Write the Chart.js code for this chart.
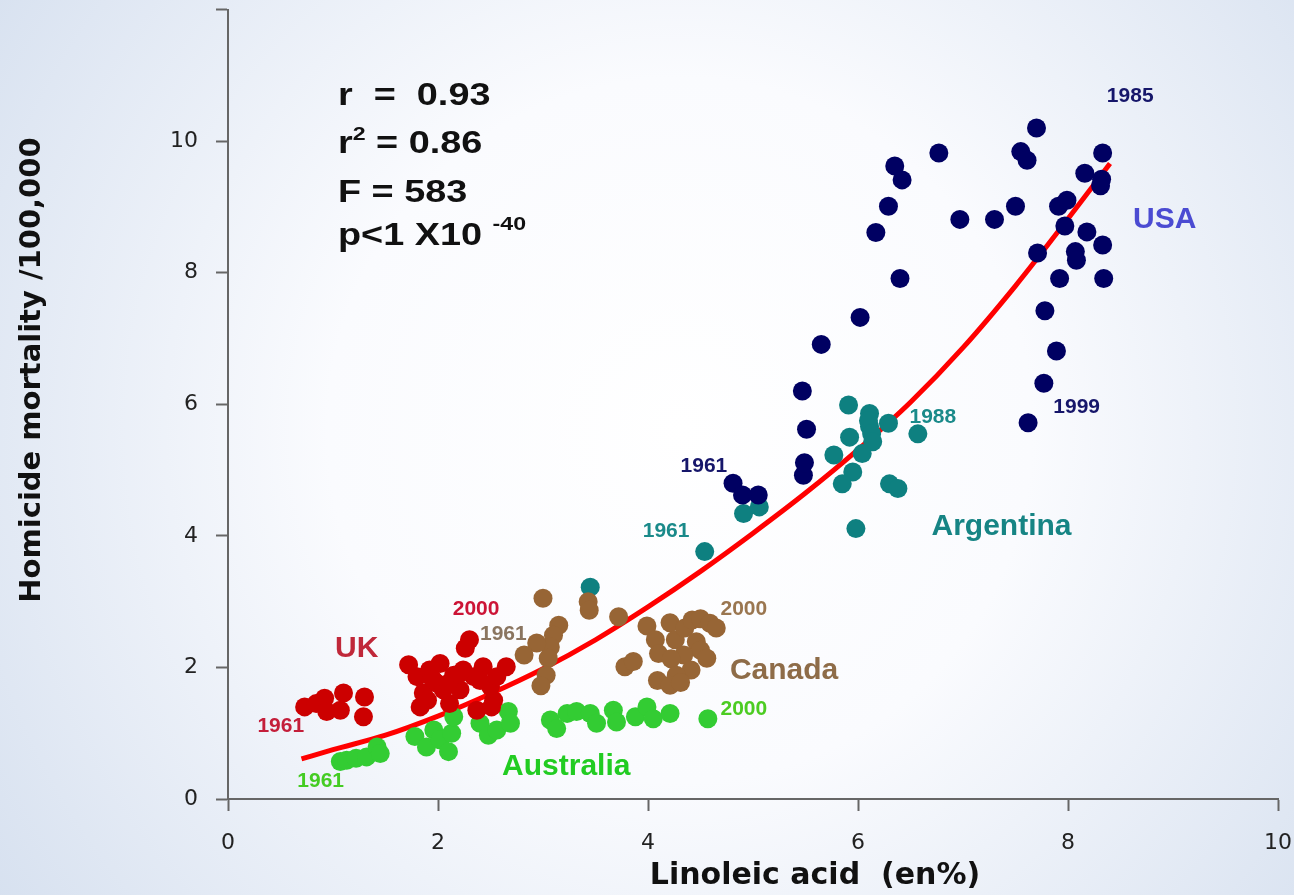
<!DOCTYPE html>
<html>
<head>
<meta charset="utf-8">
<script src="https://cdn.jsdelivr.net/npm/chart.js@4.4.1/dist/chart.umd.min.js"></script>
<style>
  body { margin: 0; background: #fff; }
  #wrap { width: 1294px; height: 895px; }
</style>
</head>
<body>
<div id="wrap"><canvas id="homicideChart" width="1294" height="895"></canvas></div>
<script>
// points: [linoleic acid en%, homicide /100,000]
const usa = [
  [4.81, 4.80], [4.90, 4.62], [5.05, 4.62], [5.48, 4.92], [5.49, 5.11], [5.51, 5.62],
  [5.47, 6.20], [5.65, 6.91], [6.02, 7.32], [6.40, 7.91], [6.17, 8.61], [6.29, 9.01],
  [6.35, 9.62], [6.42, 9.41], [6.77, 9.82], [6.97, 8.81], [7.30, 8.81], [7.50, 9.01],
  [7.55, 9.84], [7.61, 9.71], [7.70, 10.20], [7.71, 8.30], [7.91, 9.01], [7.99, 9.10],
  [7.97, 8.71], [8.07, 8.32], [8.08, 8.19], [8.18, 8.62], [8.16, 9.51], [8.33, 9.82],
  [8.32, 9.42], [8.31, 9.32], [8.33, 8.42], [7.92, 7.91], [8.34, 7.91], [7.78, 7.42],
  [7.89, 6.81], [7.77, 6.32], [7.62, 5.72]
];
const argentina = [
  [3.45, 3.22], [4.54, 3.76], [4.91, 4.34], [5.06, 4.44], [5.91, 5.99], [6.11, 5.86],
  [5.92, 5.50], [6.11, 5.66], [6.10, 5.75], [6.13, 5.55], [6.29, 5.71], [6.57, 5.55],
  [6.14, 5.43], [5.77, 5.23], [6.04, 5.25], [5.95, 4.97], [5.85, 4.79], [6.30, 4.79],
  [6.38, 4.72], [5.98, 4.11]
];
const canada = [
  [3.00, 3.05], [3.43, 3.00], [3.44, 2.87], [3.72, 2.77], [3.15, 2.64], [3.10, 2.49],
  [3.07, 2.31], [2.94, 2.37], [2.82, 2.19], [3.05, 2.14], [3.03, 1.88], [2.98, 1.72],
  [3.78, 2.01], [3.86, 2.09], [3.99, 2.63], [4.07, 2.42], [4.10, 2.21], [4.21, 2.68],
  [4.26, 2.42], [4.35, 2.60], [4.42, 2.72], [4.50, 2.74], [4.59, 2.67], [4.65, 2.60],
  [4.46, 2.39], [4.50, 2.26], [4.56, 2.14], [4.34, 2.19], [4.22, 2.13], [4.41, 1.96],
  [4.27, 1.88], [4.09, 1.80], [4.21, 1.73], [4.31, 1.77]
];
const uk = [
  [0.73, 1.40], [0.84, 1.45], [0.92, 1.53], [0.94, 1.33], [1.10, 1.61], [1.07, 1.35],
  [1.30, 1.55], [1.29, 1.25], [1.72, 2.04], [1.80, 1.86], [1.83, 1.40], [1.86, 1.61],
  [1.92, 1.96], [2.02, 2.06], [1.99, 1.76], [2.11, 1.45], [2.15, 1.88], [2.24, 1.96],
  [2.30, 2.42], [2.26, 2.29], [2.34, 1.86], [2.37, 1.35], [2.43, 2.01], [2.50, 1.71],
  [2.53, 1.50], [2.56, 1.86], [2.65, 2.01], [2.51, 1.40], [2.05, 1.66], [2.21, 1.66],
  [1.95, 1.82], [2.10, 1.76], [2.40, 1.80], [1.90, 1.50], [2.20, 1.90]
];
const australia = [
  [1.07, 0.57], [1.13, 0.59], [1.22, 0.62], [1.32, 0.64], [1.42, 0.79], [1.45, 0.69],
  [1.78, 0.95], [1.89, 0.79], [1.96, 1.05], [2.02, 0.90], [2.10, 0.72], [2.13, 1.00],
  [2.15, 1.25], [2.40, 1.15], [2.48, 0.97], [2.56, 1.05], [2.67, 1.33], [2.69, 1.15],
  [3.07, 1.20], [3.13, 1.07], [3.23, 1.30], [3.32, 1.33], [3.45, 1.30], [3.51, 1.15],
  [3.67, 1.35], [3.70, 1.17], [3.88, 1.25], [3.99, 1.40], [4.05, 1.22], [4.21, 1.30],
  [4.57, 1.22]
];
// red fitted curve, read at these x positions
const fitX = [0.7, 1.0, 1.5, 2.0, 2.5, 3.0, 3.5, 4.0, 4.5, 5.0, 5.5, 6.0, 6.5, 7.0, 7.5, 8.0, 8.4];
const fitY = [0.61, 0.75, 0.97, 1.26, 1.60, 1.98, 2.42, 2.92, 3.46, 4.04, 4.65, 5.31, 6.03, 6.86, 7.80, 8.82, 9.66];

const xTicks = [0, 2, 4, 6, 8, 10];
const yTicks = [0, 2, 4, 6, 8, 10];

// text labels on the plot: [text, x, y, colour, font]
const yearFont = 'bold 21px "Liberation Sans", Arial, sans-serif';
const nameFont = 'bold 30px "Liberation Sans", Arial, sans-serif';
const labels = [
  ['1985', 8.37, 10.59, '#16166a', yearFont],
  ['USA', 8.62, 8.68, '#4b4bd2', nameFont],
  ['1999', 7.86, 5.87, '#16166a', yearFont],
  ['1988', 6.49, 5.71, '#1a8a8a', yearFont],
  ['Argentina', 6.70, 4.01, '#168484', nameFont],
  ['1961', 4.31, 4.97, '#16166a', yearFont],
  ['1961', 3.95, 3.98, '#1a8a8a', yearFont],
  ['2000', 4.69, 2.80, '#9a7650', yearFont],
  ['Canada', 4.78, 1.82, '#8e6c48', nameFont],
  ['1961', 2.40, 2.42, '#8a7560', yearFont],
  ['2000', 2.14, 2.80, '#cc1436', yearFont],
  ['UK', 1.02, 2.16, '#c0283a', nameFont],
  ['1961', 0.28, 1.02, '#c41e3a', yearFont],
  ['1961', 0.66, 0.18, '#44cc22', yearFont],
  ['Australia', 2.61, 0.36, '#22cc22', nameFont],
  ['2000', 4.69, 1.28, '#4ccc22', yearFont]
];

const toPts = arr => arr.map(p => ({ x: p[0], y: p[1] }));

const bgPlugin = {
  id: 'bg',
  beforeDraw(chart) {
    const c = chart.ctx;
    const g = c.createRadialGradient(680, 430, 0, 680, 430, 880);
    g.addColorStop(0, '#ffffff');
    g.addColorStop(0.4, '#fafbfe');
    g.addColorStop(1, '#d3deee');
    c.save();
    c.fillStyle = g;
    c.fillRect(0, 0, chart.width, chart.height);
    c.restore();
  }
};

const textPlugin = {
  id: 'texts',
  afterDatasetsDraw(chart) {
    const c = chart.ctx;
    const xs = chart.scales.x, ys = chart.scales.y;
    c.save();
    c.textBaseline = 'alphabetic';
    c.textAlign = 'left';
    labels.forEach(l => {
      c.font = l[4];
      c.fillStyle = l[3];
      c.fillText(l[0], xs.getPixelForValue(l[1]), ys.getPixelForValue(l[2]));
    });

    // statistics block, bold face drawn a little wide
    const left = 338, sx = 1.22;
    const big = 'bold 31px "Liberation Sans", Arial, sans-serif';
    const small = 'bold 19px "Liberation Sans", Arial, sans-serif';
    c.fillStyle = '#111';
    const run = (parts, base) => {
      let x = left;
      parts.forEach(p => {
        c.font = p[1] ? small : big;
        c.save();
        c.translate(x, base - (p[1] || 0));
        c.scale(sx, 1);
        c.fillText(p[0], 0, 0);
        c.restore();
        x += c.measureText(p[0]).width * sx;
      });
    };
    run([['r  =  0.93']], 105);
    run([['r'], ['2', 13], [' = 0.86']], 153);
    run([['F = 583']], 202);
    run([['p<1 X10 '], ['-40', 15]], 245);

    // axis titles
    c.font = 'bold 30px "DejaVu Sans", sans-serif';
    c.fillStyle = '#111';
    c.textAlign = 'center';
    c.textBaseline = 'middle';
    c.fillText('Linoleic acid  (en%)', 815, 876);
    c.save();
    c.translate(32, 370);
    c.rotate(-Math.PI / 2);
    c.font = 'bold 29px "DejaVu Sans", sans-serif';
    c.fillText('Homicide mortality /100,000', 0, 0);
    c.restore();
    c.restore();
  }
};

const ctx = document.getElementById('homicideChart').getContext('2d');

const homicideChart = new Chart(ctx, {
  type: 'scatter',
  data: {
    datasets: [
      { label: 'USA', data: toPts(usa), backgroundColor: '#000062' },
      { label: 'Canada', data: toPts(canada), backgroundColor: '#976535' },
      { label: 'UK', data: toPts(uk), backgroundColor: '#cc0000' },
      { label: 'Australia', data: toPts(australia), backgroundColor: '#33cc33' },
      { label: 'Argentina', data: toPts(argentina), backgroundColor: '#0e8080' },
      {
        label: 'fit',
        type: 'line',
        data: fitX.map((x, i) => ({ x: x, y: fitY[i] })),
        borderColor: '#ff0000',
        borderWidth: 5,
        pointRadius: 0,
        cubicInterpolationMode: 'monotone',
        fill: false
      }
    ]
  },
  options: {
    responsive: false,
    animation: false,
    elements: { point: { radius: 9.5, borderWidth: 0, hoverRadius: 9.5 } },
    layout: { padding: { top: 9, right: 16, left: 0, bottom: 0 } },
    plugins: { legend: { display: false }, tooltip: { enabled: false } },
    scales: {
      x: {
        type: 'linear',
        min: 0, max: 10,
        afterFit(s) { s.height = 96; s.paddingLeft = 0; s.paddingRight = 0; },
        afterBuildTicks(s) { s.ticks = xTicks.map(v => ({ value: v })); },
        grid: { drawOnChartArea: false, tickLength: 12, tickWidth: 2, color: '#666' },
        border: { color: '#666', width: 2 },
        ticks: { padding: 19, color: '#222', font: { family: 'DejaVu Sans', size: 22 } }
      },
      y: {
        type: 'linear',
        min: 0, max: 12,
        afterFit(s) { s.width = 228; s.paddingTop = 0; s.paddingBottom = 0; },
        afterBuildTicks(s) { s.ticks = yTicks.concat([12]).map(v => ({ value: v })); },
        grid: { drawOnChartArea: false, tickLength: 12, tickWidth: 2, color: '#666' },
        border: { color: '#666', width: 2 },
        ticks: {
          padding: 18, color: '#222', font: { family: 'DejaVu Sans', size: 22 },
          callback: v => (v === 12 ? '' : v)
        }
      }
    }
  },
  plugins: [bgPlugin, textPlugin]
});
</script>
</body>
</html>
